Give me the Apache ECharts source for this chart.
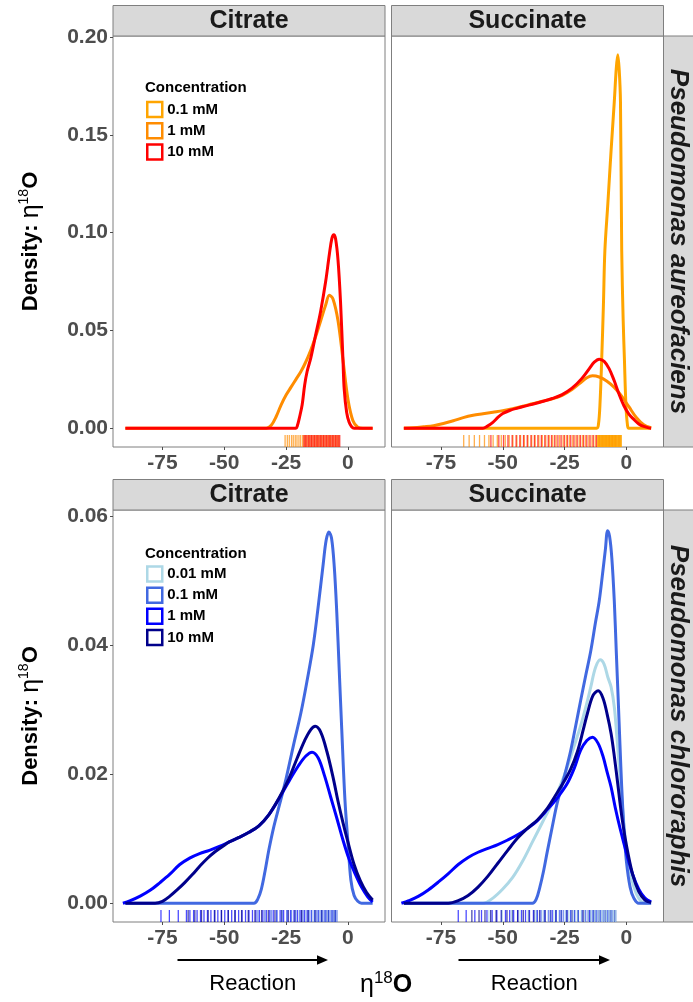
<!DOCTYPE html>
<html>
<head>
<meta charset="utf-8">
<script src="https://cdn.jsdelivr.net/npm/echarts@6/dist/echarts.min.js"></script>
<style>
  html, body { margin: 0; padding: 0; background: #fff; }
  #main { width: 693px; height: 1002px; }
</style>
</head>
<body>
<div id="main"></div>
<script>
// axis ticks and labels
var xTicks = [-75, -50, -25, 0];
var yTicksTop = [0, 0.05, 0.10, 0.15, 0.20];
var yTicksBottom = [0, 0.02, 0.04, 0.06];
var substrates = ['Citrate', 'Succinate'];
var species = ['Pseudomonas aureofaciens', 'Pseudomonas chlororaphis'];
var concTop = ['0.1 mM', '1 mM', '10 mM'];
var concBottom = ['0.01 mM', '0.1 mM', '1 mM', '10 mM'];

// density curves (x = eta18O, y = density)
// P. aureofaciens / Citrate
var aurCit1x = [-90, -33, -31, -29, -27, -25, -23, -21, -19, -17, -15, -13, -11, -9, -7.5, -6, -4, -2, 0, 2, 4, 6, 10];
var aurCit1y = [0, 0, 0.0015, 0.006, 0.012, 0.017, 0.021, 0.025, 0.029, 0.034, 0.040, 0.047, 0.055, 0.063, 0.068, 0.066, 0.055, 0.035, 0.015, 0.004, 0.0005, 0, 0];
var aurCit10x = [-90, -21, -20.5, -19.5, -18.5, -17.5, -16.5, -15, -13, -11, -9, -7.5, -6.5, -5.7, -5, -4, -3, -2, -1.5, -0.5, 0.5, 1.5, 2.5, 10];
var aurCit10y = [0, 0, 0.001, 0.006, 0.012, 0.022, 0.029, 0.036, 0.048, 0.060, 0.075, 0.089, 0.097, 0.099, 0.097, 0.086, 0.065, 0.035, 0.020, 0.008, 0.003, 0.0008, 0, 0];
// P. aureofaciens / Succinate
var aurSuc01x = [-90, -12, -11.3, -10.7, -10, -9.3, -8.7, -7.5, -6.2, -4.9, -4.1, -3.5, -2.9, -2.4, -1.9, -1.3, -0.8, -0.2, 0.4, 1, 10];
var aurSuc01y = [0, 0, 0.002, 0.012, 0.035, 0.063, 0.091, 0.115, 0.142, 0.167, 0.184, 0.191, 0.183, 0.167, 0.091, 0.055, 0.035, 0.012, 0.002, 0, 0];
var aurSuc1x = [-90, -86, -82, -78, -74, -70, -66, -62, -58, -54, -50, -46, -42, -38, -34, -30, -26, -22, -19, -16, -13.7, -11, -8, -5, -2, 1, 4, 7, 10];
var aurSuc1y = [0, 0.0002, 0.0007, 0.0013, 0.0024, 0.0038, 0.0054, 0.0066, 0.0074, 0.0082, 0.009, 0.010, 0.0112, 0.0125, 0.0138, 0.015, 0.0168, 0.0198, 0.0228, 0.0258, 0.0268, 0.0262, 0.0242, 0.021, 0.0165, 0.011, 0.0055, 0.0018, 0.0003];
var aurSuc10x = [-90, -58, -56.5, -54, -52, -50, -47, -44, -41, -38, -34, -30, -26, -22, -18, -15, -13, -11, -9, -7, -5, -3, -1, 1, 3, 5, 7, 9, 10];
var aurSuc10y = [0, 0, 0.0008, 0.003, 0.0055, 0.0075, 0.0092, 0.0103, 0.0113, 0.0123, 0.0137, 0.0152, 0.0172, 0.0205, 0.0255, 0.0305, 0.0338, 0.0353, 0.0342, 0.0305, 0.0245, 0.0175, 0.0115, 0.0072, 0.0045, 0.0022, 0.0009, 0.0002, 0];
// P. chlororaphis / Citrate
var chlCit01x = [-90, -38, -36.5, -35, -33.5, -32, -30, -27.5, -25, -22, -19, -16.5, -14, -12, -10, -8.8, -7.7, -6.6, -5.5, -4.5, -3.5, -2.5, -1.2, 0, 1.2, 2.5, 4, 5.5, 10];
var chlCit01y = [0, 0, 0.0006, 0.0022, 0.005, 0.0082, 0.0118, 0.0155, 0.0193, 0.0245, 0.0295, 0.0345, 0.040, 0.046, 0.0525, 0.0562, 0.0575, 0.0565, 0.052, 0.045, 0.036, 0.027, 0.016, 0.0095, 0.0036, 0.0012, 0.0003, 0, 0];
var chlCit1x = [-91, -88, -84, -80, -76, -72, -68, -64, -60, -56, -52, -48, -44, -40, -36, -32, -28, -24, -20, -17, -14.5, -12, -9.5, -7, -4.5, -2, 0.5, 3, 5.5, 8, 10];
var chlCit1y = [0, 0.0004, 0.0011, 0.002, 0.0032, 0.0045, 0.006, 0.007, 0.0077, 0.0082, 0.0088, 0.0095, 0.0102, 0.011, 0.012, 0.0137, 0.0161, 0.0188, 0.0213, 0.0228, 0.0234, 0.0225, 0.0198, 0.0165, 0.0132, 0.0098, 0.0068, 0.0045, 0.0025, 0.001, 0.0002];
var chlCit10x = [-90, -78, -75, -72, -69, -66, -63, -60, -57, -54, -51, -48, -44, -40, -36, -32, -28, -24, -20.5, -17.5, -15, -13.2, -11, -8.5, -6, -4, -2, 0, 2.5, 5, 7.5, 10];
var chlCit10y = [0, 0, 0.0003, 0.0011, 0.0021, 0.0032, 0.0044, 0.0057, 0.0069, 0.0079, 0.0087, 0.0095, 0.0102, 0.011, 0.012, 0.0137, 0.0162, 0.0192, 0.0225, 0.0252, 0.0269, 0.0274, 0.0265, 0.0235, 0.0195, 0.0158, 0.0125, 0.0095, 0.006, 0.0035, 0.0017, 0.0005];
// P. chlororaphis / Succinate
var chlSuc001x = [-90, -58, -54, -50, -46, -42, -38, -34, -30, -27, -24, -21, -18.5, -16, -14.4, -12.5, -10.6, -9, -7.5, -6.2, -4.9, -3.9, -2.9, -1.5, 0, 2, 4, 6, 8, 10];
var chlSuc001y = [0, 0, 0.0008, 0.0022, 0.004, 0.0065, 0.0095, 0.0125, 0.0155, 0.018, 0.021, 0.0245, 0.0275, 0.031, 0.0335, 0.0365, 0.0377, 0.037, 0.035, 0.0335, 0.0304, 0.026, 0.0211, 0.0145, 0.0085, 0.004, 0.0015, 0.0003, 0, 0];
var chlSuc01x = [-90, -38, -36.5, -35, -33.5, -32, -30, -28, -25, -22.5, -20.5, -18.5, -16.5, -14.4, -12.5, -11, -9.5, -8.5, -7.6, -6.8, -5.9, -4.9, -4.1, -3.3, -2.6, -1.9, -1, 0, 1.5, 3, 5, 10];
var chlSuc01y = [0, 0, 0.0006, 0.0025, 0.005, 0.008, 0.0118, 0.0155, 0.0198, 0.0237, 0.0275, 0.0314, 0.0352, 0.0391, 0.0435, 0.0468, 0.0515, 0.0548, 0.0577, 0.0568, 0.0535, 0.0468, 0.039, 0.0314, 0.0245, 0.018, 0.0115, 0.0065, 0.0025, 0.0008, 0, 0];
var chlSuc1x = [-91, -88, -84, -80, -76, -72, -68, -64, -60, -56, -52, -48, -44, -40, -36, -32, -28, -24, -21, -18.5, -16, -13.7, -11.5, -9.5, -7.8, -6.2, -4.5, -2.5, 0, 2.5, 5, 7.5, 10];
var chlSuc1y = [0, 0.0004, 0.0011, 0.0021, 0.0033, 0.0046, 0.006, 0.0071, 0.0079, 0.0085, 0.0091, 0.0098, 0.0106, 0.0116, 0.0128, 0.0145, 0.0163, 0.0185, 0.021, 0.0237, 0.0252, 0.0257, 0.0248, 0.0228, 0.0203, 0.018, 0.0148, 0.0115, 0.0078, 0.0045, 0.0022, 0.0008, 0.0002];
var chlSuc10x = [-90, -72, -68, -64, -60, -56, -52, -48, -44, -40, -36, -32, -29, -25.3, -22.5, -19.8, -17.5, -15.7, -13.5, -11.4, -9.5, -7.8, -6.2, -4.8, -3.5, -2, 0, 2.5, 5, 7.5, 10];
var chlSuc10y = [0, 0, 0.0004, 0.0012, 0.0025, 0.0042, 0.0062, 0.0082, 0.0101, 0.0116, 0.0129, 0.0147, 0.0165, 0.0188, 0.0208, 0.0235, 0.0268, 0.0295, 0.0322, 0.0329, 0.0318, 0.0293, 0.0263, 0.0225, 0.0185, 0.0138, 0.009, 0.0045, 0.0018, 0.0005, 0.0001];

// rug (individual observations)
var aurCitRug1 = [-25.4, -24.5, -23.7, -22.8, -22.1, -21.3, -20.6, -19.8, -19.1, -18.3, -17.6, -16.9, -16.2, -15.5, -14.8, -14.1, -13.4, -12.7, -12, -11.3, -10.6, -9.9, -9.2, -8.5, -7.8, -7.1, -6.4, -5.7, -5, -4.3, -3.6];
var aurCitRug10 = [-17.8, -17.2, -16.6, -15.9, -15.3, -14.7, -14.1, -13.5, -12.9, -12.3, -11.7, -11.1, -10.5, -9.9, -9.3, -8.7, -8.1, -7.5, -6.9, -6.3, -5.7, -5.1, -4.5, -3.9, -3.3];
var aurSucRug01 = [-11.6, -11.2, -10.8, -10.4, -10, -9.6, -9.2, -8.8, -8.4, -8, -7.6, -7.2, -6.8, -6.4, -6, -5.6, -5.2, -4.8, -4.4, -4, -3.6, -3.2, -2.8, -2.4, -2.1];
var aurSucRug1 = [-65.8, -63.6, -61.5, -59.4, -57.4, -55.6, -53.9, -52.2, -50.6, -49, -47.4, -45.9, -44.3, -42.8, -41.3, -39.8, -38.3, -36.9, -35.4, -34, -32.6, -31.2, -29.8, -28.4, -27, -25.6, -24.3, -23, -21.7, -20.4, -19.1, -17.8, -16.5, -15.2, -13.9, -12.6, -11.3, -10, -8.7, -7.4, -6.1, -4.8];
var aurSucRug10 = [-54.8, -51.6, -49.7, -47.9, -46.2, -44.6, -43.1, -41.6, -40.1, -38.6, -37.2, -35.8, -34.4, -33, -31.6, -30.3, -29, -27.7, -26.4, -25.1, -23.8, -22.5, -21.2, -19.9, -18.6, -17.3, -16, -14.7, -13.4, -12.1, -10.8, -9.5, -8.2, -6.9, -5.6, -4.3, -3];
var chlCitRug01 = [-36.4, -33.6, -31, -28.7, -26.6, -24.6, -22.8, -21.1, -19.6, -18.2, -16.9, -15.7, -14.6, -13.6, -12.6, -11.7, -10.9, -10.1, -9.3, -8.6, -7.9, -7.2, -6.5, -5.8, -5.1, -4.4];
var chlCitRug1 = [-75.6, -72.2, -68.6, -65.3, -63.9, -62.4, -61, -59.6, -58.2, -56.8, -55.4, -54, -52.6, -51.2, -49.8, -48.4, -47, -45.6, -44.2, -42.8, -41.4, -40, -38.6, -37.2, -35.8, -34.4, -33, -31.6, -30.2, -28.8, -27.4, -26, -24.6, -23.2, -21.8, -20.4, -19, -17.6, -16.2, -14.8, -13.4, -12, -10.6, -9.2, -7.8, -6.4, -5];
var chlCitRug10 = [-64.6, -61.9, -59.2, -56.5, -53.8, -51.1, -48.4, -45.7, -43, -40.3, -37.6, -34.9, -32.2, -29.5, -26.8, -24.1, -21.4, -18.7, -16, -13.3, -10.6, -7.9, -5.2];
var chlSucRug001 = [-55.6, -50.2, -46.4, -43, -39.8, -36.9, -34.2, -31.7, -29.4, -27.3, -25.3, -23.4, -21.6, -19.9, -18.3, -16.8, -15.4, -14.1, -12.9, -11.8, -10.8, -9.8, -8.9, -8, -7.1, -6.2, -5.3, -4.4];
var chlSucRug01 = [-36.2, -33.3, -30.7, -28.4, -26.3, -24.4, -22.6, -20.9, -19.4, -18, -16.7, -15.5, -14.4, -13.4, -12.4, -11.5, -10.6, -9.8, -9, -8.2, -7.4, -6.6, -5.8, -5, -4.3];
var chlSucRug1 = [-68, -64.8, -61.3, -58.6, -56.4, -54.3, -52.4, -50.6, -48.9, -47.2, -45.6, -44, -42.4, -40.8, -39.2, -37.6, -36, -34.5, -33, -31.5, -30, -28.5, -27, -25.5, -24, -22.5, -21, -19.5, -18, -16.5, -15, -13.5, -12, -10.5, -9, -7.5, -6];
var chlSucRug10 = [-62.5, -59.6, -57.2, -54.9, -52.7, -50.5, -48.3, -46.1, -43.9, -41.7, -39.5, -37.3, -35.1, -32.9, -30.7, -28.5, -26.3, -24.1, -21.9, -19.7, -17.5, -15.3, -13.1, -10.9, -8.7, -6.5, -4.6];

// styling
var FONT = '"Liberation Sans", Arial, sans-serif';
var colors = {
  'A|0.1 mM': '#FFA500', 'A|1 mM': '#FF8C00', 'A|10 mM': '#FF0000',
  'C|0.01 mM': '#ADD8E6', 'C|0.1 mM': '#4169E1', 'C|1 mM': '#0000FF', 'C|10 mM': '#00008B'
};
var GL = [113, 391.5], GT = [36, 510], GW = 272, GH = [411, 412];
var yRange = [[-0.0096, 0.2006], [-0.0029, 0.0609]];

// panels: grid index -> row, curves, rugs
var panels = [
  { row: 'A', curves: [['1 mM', aurCit1x, aurCit1y], ['10 mM', aurCit10x, aurCit10y]],
    rugs: [['1 mM', aurCitRug1], ['10 mM', aurCitRug10]] },
  { row: 'A', curves: [['0.1 mM', aurSuc01x, aurSuc01y], ['1 mM', aurSuc1x, aurSuc1y], ['10 mM', aurSuc10x, aurSuc10y]],
    rugs: [['1 mM', aurSucRug1], ['10 mM', aurSucRug10], ['0.1 mM', aurSucRug01]] },
  { row: 'C', curves: [['0.1 mM', chlCit01x, chlCit01y], ['1 mM', chlCit1x, chlCit1y], ['10 mM', chlCit10x, chlCit10y]],
    rugs: [['1 mM', chlCitRug1], ['10 mM', chlCitRug10], ['0.1 mM', chlCitRug01]] },
  { row: 'C', curves: [['0.01 mM', chlSuc001x, chlSuc001y], ['0.1 mM', chlSuc01x, chlSuc01y], ['1 mM', chlSuc1x, chlSuc1y], ['10 mM', chlSuc10x, chlSuc10y]],
    rugs: [['1 mM', chlSucRug1], ['10 mM', chlSucRug10], ['0.1 mM', chlSucRug01], ['0.01 mM', chlSucRug001]] }
];

var grids = [], xAxes = [], yAxes = [], series = [];
var labelStyle = { fontSize: 21, fontWeight: 'bold', color: '#4D4D4D', fontFamily: FONT };

panels.forEach(function (p, i) {
  var r = Math.floor(i / 2), c = i % 2;
  grids.push({ left: GL[c], top: GT[r], width: GW, height: GH[r], show: true,
    backgroundColor: '#fff', borderColor: '#7F7F7F', borderWidth: 1, outerBoundsMode: 'none' });
  xAxes.push({ gridIndex: i, type: 'value', min: -95, max: 15, position: 'bottom',
    axisLine: { show: false, onZero: false }, splitLine: { show: false },
    axisTick: { show: true, length: 3, customValues: xTicks, lineStyle: { color: '#4D4D4D' } },
    axisLabel: Object.assign({ customValues: xTicks, margin: 6 }, labelStyle) });
  var yt = r === 0 ? yTicksTop : yTicksBottom;
  yAxes.push({ gridIndex: i, type: 'value', min: yRange[r][0], max: yRange[r][1], position: 'left',
    axisLine: { show: false, onZero: false }, splitLine: { show: false },
    axisTick: { show: c === 0, length: 3, customValues: yt, lineStyle: { color: '#4D4D4D' } },
    axisLabel: Object.assign({ show: c === 0, customValues: yt, margin: 5,
      formatter: function (v) { return v.toFixed(2); } }, labelStyle) });

  var yMin = yRange[r][0];
  p.rugs.forEach(function (rg) {
    var col = colors[p.row + '|' + rg[0]];
    var op = rg[0] === '0.1 mM' && p.row === 'A' ? 0.9 : 0.7;
    series.push({
      type: 'custom', xAxisIndex: i, yAxisIndex: i, silent: true, z: 1,
      data: rg[1].map(function (v) { return [v, yMin]; }),
      renderItem: function (params, api) {
        var pt = api.coord([api.value(0), api.value(1)]);
        return { type: 'line', shape: { x1: pt[0], y1: pt[1], x2: pt[0], y2: pt[1] - 12 },
          style: { stroke: col, lineWidth: 1.3, opacity: op } };
      }
    });
  });
  p.curves.forEach(function (cv, k) {
    var name = p.row + '|' + cv[0];
    var col = colors[name];
    series.push({
      type: 'line', name: name, xAxisIndex: i, yAxisIndex: i, z: 2 + k,
      data: cv[1].map(function (x, j) { return [x, cv[2][j]]; }),
      showSymbol: false, symbol: 'none', smooth: 0.35, silent: true,
      lineStyle: { width: 3, color: col }, itemStyle: { color: col }
    });
  });
});

function legendFor(names, top) {
  return {
    data: names.map(function (n) {
      return { name: n, icon: 'rect', itemStyle: { color: '#fff', borderColor: colors[n], borderWidth: 2.5 } };
    }),
    orient: 'vertical', left: 146, top: top, padding: 0,
    icon: 'rect', itemWidth: 15, itemHeight: 15, itemGap: 3.7, selectedMode: false,
    textStyle: { fontSize: 15, fontWeight: 'bold', color: '#000', fontFamily: FONT, lineHeight: 15 },
    formatter: function (n) { return n.split('|')[1]; }
  };
}

var titleRich = {
  b: { fontSize: 22, fontWeight: 'bold', fill: '#000', fontFamily: FONT, lineHeight: 28 },
  n: { fontSize: 25, fill: '#000', fontFamily: FONT, lineHeight: 28 },
  s: { fontSize: 14, fill: '#000', fontFamily: FONT, lineHeight: 14, verticalAlign: 'top' }
};
var graphics = [];
// strips
[0, 1].forEach(function (r) {
  [0, 1].forEach(function (c) {
    graphics.push({ type: 'rect', shape: { x: GL[c], y: GT[r] - 30.5, width: GW, height: 30.5 },
      style: { fill: '#D9D9D9', stroke: '#7F7F7F', lineWidth: 1 } });
    graphics.push({ type: 'text', x: GL[c] + GW / 2, y: GT[r] - 15,
      style: { text: substrates[c], fontSize: 25, fontWeight: 'bold', fill: '#1A1A1A', fontFamily: FONT,
        align: 'center', verticalAlign: 'middle' } });
  });
  graphics.push({ type: 'rect', shape: { x: GL[1] + GW, y: GT[r], width: 40, height: GH[r] },
    style: { fill: '#D9D9D9', stroke: '#7F7F7F', lineWidth: 1 } });
  graphics.push({ type: 'text', x: 678, y: GT[r] + GH[r] / 2, rotation: -Math.PI / 2,
    style: { text: species[r], fontSize: 26, fontWeight: 'bold', fontStyle: 'italic', fill: '#1A1A1A',
      fontFamily: FONT, align: 'center', verticalAlign: 'middle' } });
  // y axis title
  graphics.push({ type: 'text', x: 31, y: GT[r] + GH[r] / 2, rotation: Math.PI / 2,
    style: { text: '{b|Density: }{n|η}{s|18}{b|O}', align: 'center', verticalAlign: 'middle', rich: titleRich } });
});
// legend titles
graphics.push({ type: 'text', x: 145, y: 88, style: { text: 'Concentration', fontSize: 15, fontWeight: 'bold',
  fill: '#000', fontFamily: FONT, align: 'left', verticalAlign: 'middle' } });
graphics.push({ type: 'text', x: 145, y: 554, style: { text: 'Concentration', fontSize: 15, fontWeight: 'bold',
  fill: '#000', fontFamily: FONT, align: 'left', verticalAlign: 'middle' } });
// reaction arrows
[[177.5, 318], [458.5, 600]].forEach(function (a) {
  graphics.push({ type: 'line', shape: { x1: a[0], y1: 960, x2: a[1], y2: 960 }, style: { stroke: '#000', lineWidth: 2 } });
  graphics.push({ type: 'polygon', shape: { points: [[a[1] + 10, 960], [a[1] - 1, 955.3], [a[1] - 1, 964.7]] },
    style: { fill: '#000' } });
  graphics.push({ type: 'text', x: (a[0] + a[1] + 10) / 2, y: 984, style: { text: 'Reaction', fontSize: 22,
    fill: '#000', fontFamily: FONT, align: 'center', verticalAlign: 'middle' } });
});
graphics.push({ type: 'text', x: 360, y: 985,
  style: { text: '{n|η}{s|18}{b|O}', align: 'left', verticalAlign: 'middle',
    rich: {
      b: { fontSize: 25, fontWeight: 'bold', fill: '#000', fontFamily: FONT, lineHeight: 30 },
      n: { fontSize: 25, fill: '#000', fontFamily: FONT, lineHeight: 30 },
      s: { fontSize: 17, fill: '#000', fontFamily: FONT, lineHeight: 17, verticalAlign: 'top' }
    } } });

var chart = echarts.init(document.getElementById('main'));
chart.setOption({
  animation: false,
  backgroundColor: '#fff',
  grid: grids,
  xAxis: xAxes,
  yAxis: yAxes,
  legend: [legendFor(concTop.map(function (c) { return 'A|' + c; }), 100.8),
           legendFor(concBottom.map(function (c) { return 'C|' + c; }), 565.2)],
  graphic: graphics,
  series: series
});
</script>
</body>
</html>
